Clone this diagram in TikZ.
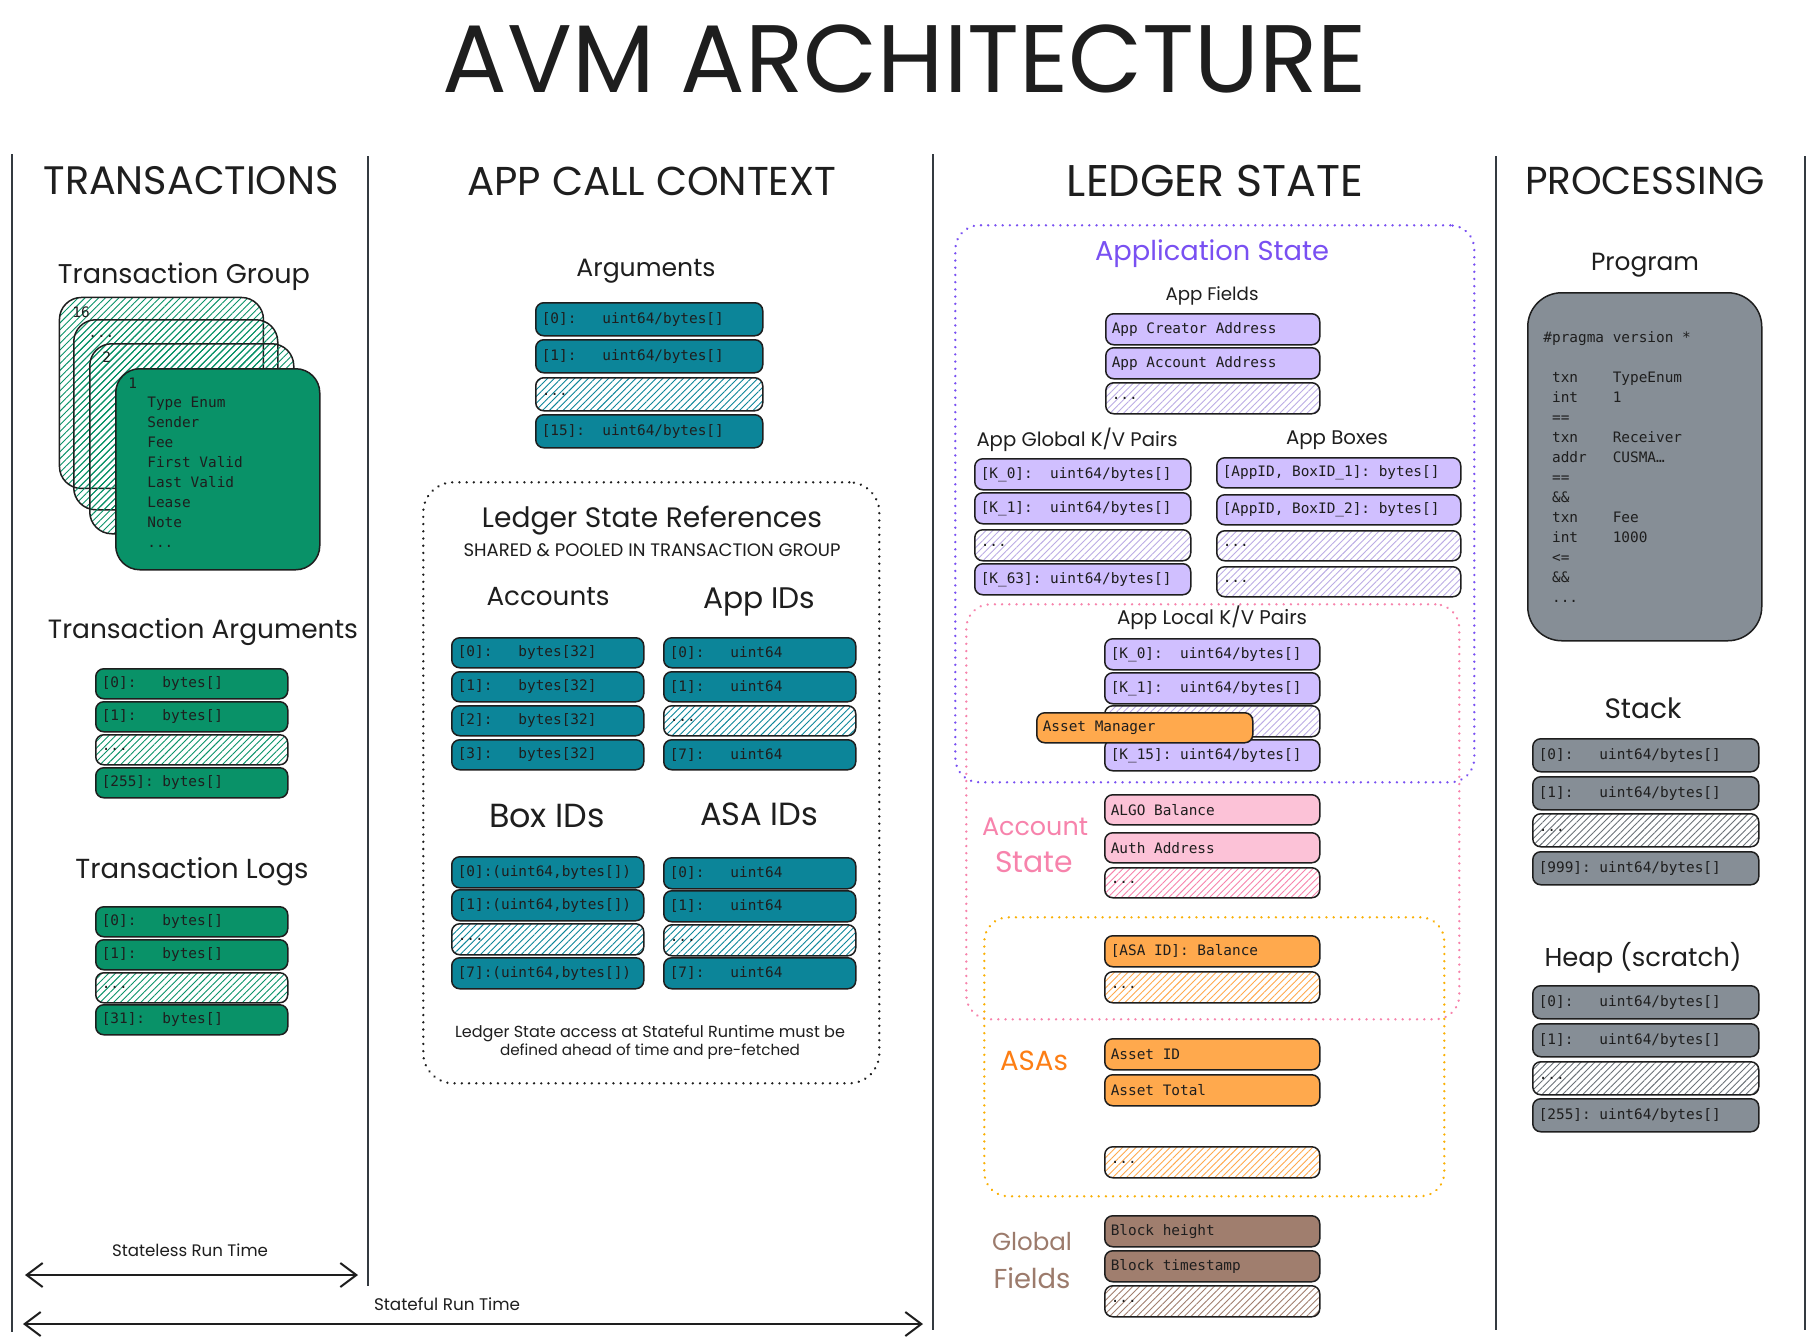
\documentclass[tikz,border=0pt]{standalone}
\usepackage{fontspec}
\usepackage{graphicx}
\setmainfont{DejaVu Sans}
\setmonofont{DejaVu Sans Mono}
\newfontfamily\hand{Poppins}
\usetikzlibrary{patterns.meta,arrows.meta}

\definecolor{ink}{HTML}{1E1E1E}
\definecolor{cgreen}{HTML}{099268}
\definecolor{cteal}{HTML}{0C8599}
\definecolor{cpurple}{HTML}{D0BFFF}
\definecolor{cpurpleline}{HTML}{7950F2}
\definecolor{cpink}{HTML}{FCC2D7}
\definecolor{cpinkline}{HTML}{F783AC}
\definecolor{corange}{HTML}{FFA94D}
\definecolor{corangeline}{HTML}{FD7E14}
\definecolor{cyellowline}{HTML}{FAB005}
\definecolor{cbrown}{HTML}{A07E6E}
\definecolor{cbrownline}{HTML}{9C7B6C}
\definecolor{cgray}{HTML}{868E96}
\definecolor{divider}{HTML}{343A40}

% one monospaced character cell of blank space
\newcommand\sk{\phantom{0}}

% a box with its top-left corner at (x,y), size w x h (all in px units)
\newcommand\cellat[7]{%
  \pgfmathsetmacro\cbw{#4*0.5}%
  \pgfmathsetmacro\cbh{#5*0.5}%
  \pgfmathsetmacro\cbt{#4*0.5-6}%
  \node[cell,#6,minimum width=\cbw pt,minimum height=\cbh pt,text width=\cbt pt] (#1) at (#2,#3) {#7};}

\tikzset{
  cell/.style={draw=ink, line width=0.75pt, rounded corners=4pt, anchor=north west,
    inner xsep=3pt, inner ysep=0pt, align=left, text=ink,
    font=\ttfamily\fontsize{7.2}{8}\selectfont},
  hatch/.style={pattern={Lines[angle=45,distance=2.4pt,line width=0.45pt]}, pattern color=#1},
  gfill/.style={fill=cgreen},
  tfill/.style={fill=cteal},
  pfill/.style={fill=cpurple},
  kfill/.style={fill=cpink},
  ofill/.style={fill=corange},
  bfill/.style={fill=cbrown},
  yfill/.style={fill=cgray},
  hd/.style={inner sep=0pt, text=ink},
  monotext/.style={inner sep=0pt, text=ink, align=left,
    font=\ttfamily\fontsize{7.2}{10}\selectfont},
  dotbox/.style={draw=#1, line width=1.3pt, dash pattern=on 0.01pt off 3.6pt,
    line cap=round, rounded corners=12pt, anchor=north west, inner sep=0pt},
  divline/.style={draw=divider, line width=1.1pt},
  runarrow/.style={draw=ink, line width=1.2pt,
    arrows={Straight Barb[length=8pt,width=12pt,line width=1pt]-Straight Barb[length=8pt,width=12pt,line width=1pt]}},
}

\begin{document}
\begin{tikzpicture}[x=0.5pt,y=-0.5pt]
\path[use as bounding box, fill=white] (0,0) rectangle (1816,1340);

% ---------- title and column headers ----------
\node[hd] (title) at (905,59) {\resizebox{462pt}{!}{\hand AVM ARCHITECTURE}};
\node[hd] (h-tx)  at (191,181) {\resizebox{147.5pt}{!}{\hand TRANSACTIONS}};
\node[hd] (h-app) at (652,181) {\resizebox{184.5pt}{!}{\hand APP CALL CONTEXT}};
\node[hd] (h-led) at (1215,181) {\resizebox{148pt}{!}{\hand LEDGER STATE}};
\node[hd] (h-pro) at (1645,181) {\resizebox{120pt}{!}{\hand PROCESSING}};

% ---------- column dividers ----------
\draw[divline] (12,154) -- (12,1332);
\draw[divline] (368,156) -- (368,1286);
\draw[divline] (933,154) -- (933,1330);
\draw[divline] (1496,156) -- (1496,1330);
\draw[divline] (1805,156) -- (1805,1330);

% ---------- TRANSACTIONS ----------
\node[hd] (tg-title) at (184,277) {\resizebox{126pt}{!}{\hand Transaction Group}};
\cellat{card16}{59}{297}{204}{191}{hatch=cgreen, rounded corners=11pt}{}
\cellat{cardn}{73}{319}{204}{190}{hatch=cgreen, rounded corners=11pt}{}
\cellat{card2}{89}{343}{204}{190}{hatch=cgreen, rounded corners=11pt}{}
\cellat{card1}{115}{368}{204}{201}{gfill, rounded corners=12pt}{}
\node[monotext, anchor=west] (card16-l) at (72,312) {16};
\node[monotext, anchor=west] (cardn-l) at (88,336) {...};
\node[monotext, anchor=west] (card2-l) at (102,357) {2};
\node[monotext, anchor=west] (card1-l) at (128,383) {1};
\node[monotext, anchor=north west] (card1-body) at (147,396)
  {Type\sk Enum\\Sender\\Fee\\First\sk Valid\\Last\sk Valid\\Lease\\Note\\...};

\node[hd] (ta-title) at (203,632) {\resizebox{155pt}{!}{\hand Transaction Arguments}};
\cellat{ta0}{95}{668}{192}{30}{gfill}{[0]:\sk\sk\sk bytes[]}
\cellat{ta1}{95}{701}{192}{30}{gfill}{[1]:\sk\sk\sk bytes[]}
\cellat{ta2}{95}{734}{192}{30}{hatch=cgreen}{...}
\cellat{ta3}{95}{767}{192}{30}{gfill}{[255]:\sk bytes[]}

\node[hd] (tl-title) at (192,872) {\resizebox{116.5pt}{!}{\hand Transaction Logs}};
\cellat{tl0}{95}{906}{192}{30}{gfill}{[0]:\sk\sk\sk bytes[]}
\cellat{tl1}{95}{939}{192}{30}{gfill}{[1]:\sk\sk\sk bytes[]}
\cellat{tl2}{95}{972}{192}{30}{hatch=cgreen}{...}
\cellat{tl3}{95}{1004}{192}{30}{gfill}{[31]:\sk\sk bytes[]}

% ---------- APP CALL CONTEXT ----------
\node[hd] (arg-title) at (646,271) {\resizebox{69.5pt}{!}{\hand Arguments}};
\cellat{arg0}{535}{302}{227}{33}{tfill}{[0]:\sk\sk\sk uint64/bytes[]}
\cellat{arg1}{535}{339}{227}{33}{tfill}{[1]:\sk\sk\sk uint64/bytes[]}
\cellat{arg2}{535}{377}{227}{33}{hatch=cteal}{...}
\cellat{arg3}{535}{414}{227}{33}{tfill}{[15]:\sk\sk uint64/bytes[]}

\node[dotbox=ink, rounded corners=15pt, minimum width=228pt, minimum height=300.5pt] (lsr) at (422,481) {};
\node[hd] (lsr-title) at (652,521) {\resizebox{170pt}{!}{\hand Ledger State References}};
\node[hd] (lsr-sub) at (652,550) {\resizebox{188.5pt}{!}{\hand SHARED \& POOLED IN TRANSACTION GROUP}};

\node[hd] (acc-title) at (548,597) {\resizebox{61.5pt}{!}{\hand Accounts}};
\cellat{acc0}{451}{637}{192}{30}{tfill}{[0]:\sk\sk\sk bytes[32]}
\cellat{acc1}{451}{671}{192}{30}{tfill}{[1]:\sk\sk\sk bytes[32]}
\cellat{acc2}{451}{705}{192}{30}{tfill}{[2]:\sk\sk\sk bytes[32]}
\cellat{acc3}{451}{739}{192}{30}{tfill}{[3]:\sk\sk\sk bytes[32]}

\node[hd] (aid-title) at (759,602) {\resizebox{56pt}{!}{\hand App IDs}};
\cellat{aid0}{663}{637}{192}{30}{tfill}{[0]:\sk\sk\sk uint64}
\cellat{aid1}{663}{671}{192}{30}{tfill}{[1]:\sk\sk\sk uint64}
\cellat{aid2}{663}{705}{192}{30}{hatch=cteal}{...}
\cellat{aid3}{663}{739}{192}{30}{tfill}{[7]:\sk\sk\sk uint64}

\node[hd] (bid-title) at (547,816) {\resizebox{58pt}{!}{\hand Box IDs}};
\cellat{bid0}{451}{856}{192}{31}{tfill}{[0]:(uint64,bytes[])}
\cellat{bid1}{451}{889}{192}{31}{tfill}{[1]:(uint64,bytes[])}
\cellat{bid2}{451}{923}{192}{31}{hatch=cteal}{...}
\cellat{bid3}{451}{957}{192}{31}{tfill}{[7]:(uint64,bytes[])}

\node[hd] (sid-title) at (759,814) {\resizebox{59pt}{!}{\hand ASA IDs}};
\cellat{sid0}{663}{857}{192}{31}{tfill}{[0]:\sk\sk\sk uint64}
\cellat{sid1}{663}{890}{192}{31}{tfill}{[1]:\sk\sk\sk uint64}
\cellat{sid2}{663}{924}{192}{31}{hatch=cteal}{...}
\cellat{sid3}{663}{957}{192}{31}{tfill}{[7]:\sk\sk\sk uint64}

\node[hd] (lsr-note1) at (650,1034) {\resizebox{195pt}{!}{\hand Ledger State access at Stateful Runtime must be}};
\node[hd] (lsr-note2) at (650,1052) {\resizebox{150pt}{!}{\hand defined ahead of time and pre-fetched}};

% ---------- LEDGER STATE ----------
\node[dotbox=cpurpleline, minimum width=259.5pt, minimum height=278.5pt] (appstate) at (954,224) {};
\node[dotbox=cpinkline, minimum width=246.5pt, minimum height=207.5pt] (accstate) at (965,603) {};
\node[dotbox=cyellowline, minimum width=230pt, minimum height=139.5pt] (asastate) at (983,916) {};

\node[hd, text=cpurpleline] (as-title) at (1212,254) {\resizebox{117pt}{!}{\hand Application State}};
\node[hd] (af-title) at (1212,296) {\resizebox{46.5pt}{!}{\hand App Fields}};
\cellat{af0}{1105}{313}{214}{31}{pfill}{App\sk Creator\sk Address}
\cellat{af1}{1105}{347}{214}{31}{pfill}{App\sk Account\sk Address}
\cellat{af2}{1105}{382}{214}{31}{hatch=cpurple!90!black}{...}

\node[hd] (gkv-title) at (1077,440) {\resizebox{100.5pt}{!}{\hand App Global K/V Pairs}};
\cellat{gkv0}{974}{458}{216}{31}{pfill}{[K\_0]:\sk\sk uint64/bytes[]}
\cellat{gkv1}{974}{492}{216}{31}{pfill}{[K\_1]:\sk\sk uint64/bytes[]}
\cellat{gkv2}{974}{529}{216}{31}{hatch=cpurple!90!black}{...}
\cellat{gkv3}{974}{563}{216}{31}{pfill}{[K\_63]:\sk uint64/bytes[]}

\node[hd] (box-title) at (1337,440) {\resizebox{51pt}{!}{\hand App Boxes}};
\cellat{box0}{1216}{457}{244}{30}{pfill}{[AppID,\sk BoxID\_1]:\sk bytes[]}
\cellat{box1}{1216}{494}{244}{30}{pfill}{[AppID,\sk BoxID\_2]:\sk bytes[]}
\cellat{box2}{1216}{530}{244}{30}{hatch=cpurple!90!black}{...}
\cellat{box3}{1216}{566}{244}{30}{hatch=cpurple!90!black}{...}

\node[hd] (lkv-title) at (1212,618) {\resizebox{95pt}{!}{\hand App Local K/V Pairs}};
\cellat{lkv0}{1104}{638}{215}{31}{pfill}{[K\_0]:\sk\sk uint64/bytes[]}
\cellat{lkv1}{1104}{672}{215}{31}{pfill}{[K\_1]:\sk\sk uint64/bytes[]}
\cellat{lkv2}{1104}{705}{215}{31}{hatch=cpurple!90!black}{}
\cellat{lkv3}{1104}{739}{215}{31}{pfill}{[K\_15]:\sk uint64/bytes[]}
\cellat{mgr}{1036}{712}{216}{30}{ofill}{Asset\sk Manager}

\node[hd, text=cpinkline] (acs-t1) at (1035,827) {\resizebox{53pt}{!}{\hand Account}};
\node[hd, text=cpinkline] (acs-t2) at (1034,862) {\resizebox{39pt}{!}{\hand State}};
\cellat{acs0}{1104}{794}{215}{30}{kfill}{ALGO\sk Balance}
\cellat{acs1}{1104}{832}{215}{30}{kfill}{Auth\sk Address}
\cellat{acs2}{1104}{867}{215}{30}{hatch=cpinkline}{...}

\cellat{bal0}{1104}{935}{215}{31}{ofill}{[ASA\sk ID]:\sk Balance}
\cellat{bal1}{1104}{971}{215}{31}{hatch=corange}{...}

\node[hd, text=corangeline] (asa-title) at (1034,1061) {\resizebox{34pt}{!}{\hand ASAs}};
\cellat{asa0}{1104}{1038}{215}{31}{ofill}{Asset\sk ID}
\cellat{asa1}{1104}{1074}{215}{31}{ofill}{Asset\sk Total}
\cellat{asa2}{1104}{1146}{215}{31}{hatch=corange}{...}

\node[hd, text=cbrownline] (gf-t1) at (1032,1242) {\resizebox{40pt}{!}{\hand Global}};
\node[hd, text=cbrownline] (gf-t2) at (1032,1278) {\resizebox{38.5pt}{!}{\hand Fields}};
\cellat{gf0}{1104}{1215}{215}{31}{bfill}{Block\sk height}
\cellat{gf1}{1104}{1250}{215}{31}{bfill}{Block\sk timestamp}
\cellat{gf2}{1104}{1285}{215}{31}{hatch=cbrown}{...}

% ---------- PROCESSING ----------
\node[hd] (prog-title) at (1645,265) {\resizebox{54pt}{!}{\hand Program}};
\cellat{prog}{1527}{292}{234}{348}{yfill, rounded corners=17pt}{}
\node[monotext, anchor=north west] (prog-code) at (1543,331)
  {\#pragma\sk version\sk *\\[10pt]
   \sk txn\sk\sk\sk\sk TypeEnum\\
   \sk int\sk\sk\sk\sk 1\\
   \sk ==\\
   \sk txn\sk\sk\sk\sk Receiver\\
   \sk addr\sk\sk\sk CUSMA…\\
   \sk ==\\
   \sk\&\&\\
   \sk txn\sk\sk\sk\sk Fee\\
   \sk int\sk\sk\sk\sk 1000\\
   \sk <=\\
   \sk\&\&\\
   \sk ...};

\node[hd] (stk-title) at (1643,708) {\resizebox{38.5pt}{!}{\hand Stack}};
\cellat{stk0}{1532}{738}{226}{33}{yfill}{[0]:\sk\sk\sk uint64/bytes[]}
\cellat{stk1}{1532}{776}{226}{33}{yfill}{[1]:\sk\sk\sk uint64/bytes[]}
\cellat{stk2}{1532}{813}{226}{33}{hatch=cgray!80!black}{...}
\cellat{stk3}{1532}{851}{226}{33}{yfill}{[999]:\sk uint64/bytes[]}

\node[hd] (heap-title) at (1643,958) {\resizebox{98.5pt}{!}{\hand Heap (scratch)}};
\cellat{heap0}{1532}{985}{226}{33}{yfill}{[0]:\sk\sk\sk uint64/bytes[]}
\cellat{heap1}{1532}{1023}{226}{33}{yfill}{[1]:\sk\sk\sk uint64/bytes[]}
\cellat{heap2}{1532}{1061}{226}{33}{hatch=cgray!80!black}{...}
\cellat{heap3}{1532}{1098}{226}{33}{yfill}{[255]:\sk uint64/bytes[]}

% ---------- run-time spans ----------
\node[hd] (sl-label) at (190,1250) {\resizebox{78pt}{!}{\hand Stateless Run Time}};
\coordinate (sl-a) at (25,1275);
\coordinate (sl-b) at (358,1275);
\draw[runarrow] (sl-a) -- (sl-b);
\node[hd] (sf-label) at (447,1304) {\resizebox{73pt}{!}{\hand Stateful Run Time}};
\coordinate (sf-a) at (23,1324);
\coordinate (sf-b) at (923,1324);
\draw[runarrow] (sf-a) -- (sf-b);
\end{tikzpicture}
\end{document}
